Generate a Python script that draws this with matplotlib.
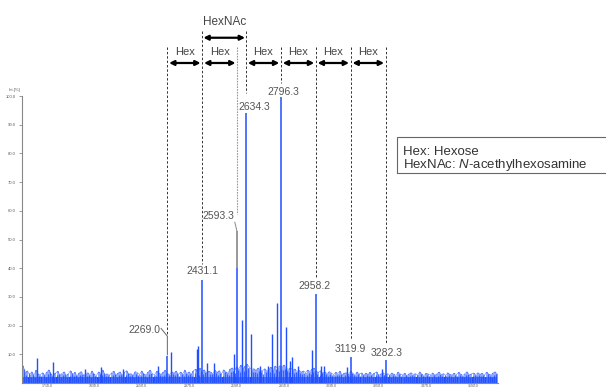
import numpy as np
import matplotlib
matplotlib.use('Agg')
import matplotlib.pyplot as plt
from matplotlib.patches import Rectangle

plt.rcParams['font.family'] = ['Liberation Sans', 'DejaVu Sans']
plt.rcParams['mathtext.fontset'] = 'custom'
plt.rcParams['mathtext.it'] = 'Liberation Sans:italic'
plt.rcParams['mathtext.rm'] = 'Liberation Sans'

# labelled glycan peaks (m/z, relative intensity %)
label_mz = [2269.0, 2431.1, 2593.3, 2634.3, 2796.3, 2958.2, 3119.9, 3282.3]
label_int = [9.5, 36, 40, 94, 99.5, 31, 9, 8]

# other visible peaks
peak_mz = [1666, 1740, 1887, 1960, 2063, 2226, 2285, 2405, 2413, 2452, 2487,
           2576, 2616, 2655, 2699, 2736, 2755, 2778, 2818, 2838, 2849, 2875,
           2940, 2981, 2996, 3103, 3265]
peak_int = [8.6, 7.3, 5, 5.5, 5, 6, 10.7, 12, 13, 7, 7,
            10, 22, 17, 6, 6, 17, 28, 19.5, 7.5, 9, 6,
            11.4, 6, 6, 5.5, 5]

# baseline noise, every 10 Da from 1600 to 3800
noise_mz = np.arange(1600, 3801, 10)
noise_int = [
    6.0, 3.5, 4.2, 2.8, 3.9, 2.6, 4.4, 3.1, 2.9, 3.6,
    2.7, 3.8, 4.6, 3.0, 2.5, 3.4, 4.1, 2.8, 3.3, 3.9,
    2.6, 3.2, 4.3, 2.9, 3.7, 2.4, 3.5, 4.0, 2.7, 3.1,
    3.6, 2.8, 4.2, 3.0, 2.6, 3.9, 3.3, 4.4, 2.9, 3.2,
    2.7, 3.5, 4.1, 2.8, 3.4, 3.9, 2.6, 3.7, 4.3, 3.0,
    3.3, 2.7, 4.0, 3.6, 2.9, 4.2, 3.1, 2.8, 3.8, 4.5,
    3.2, 2.9, 4.1, 3.5, 3.0, 3.7, 4.4, 3.3, 2.9, 4.0,
    3.4, 4.2, 2.9, 3.8, 3.1, 4.5, 3.3, 3.9, 3.0, 4.3,
    4.8, 3.6, 5.2, 4.0, 4.6, 3.5, 4.1, 3.8, 3.2, 4.4,
    3.7, 4.3, 3.1, 4.6, 3.9, 3.4, 4.8, 5.3, 4.2, 5.6,
    4.9, 6.2, 5.1, 5.8, 6.5, 5.4, 4.7, 5.0, 4.4, 5.2,
    4.6, 4.1, 5.0, 4.3, 4.8, 5.5, 4.2, 5.9, 5.1, 6.0,
    5.6, 6.3, 5.2, 4.7, 5.4, 4.5, 4.9, 4.0, 4.4, 3.8,
    4.2, 3.6, 4.5, 3.9, 4.8, 5.2, 4.1, 3.7, 4.3, 3.5,
    3.9, 3.2, 4.0, 3.5, 2.9, 3.7, 3.3, 4.1, 2.8, 3.4,
    3.6, 3.0, 4.2, 3.3, 2.9, 3.8, 3.1, 3.5, 2.7, 3.4,
    3.0, 3.7, 2.8, 3.4, 3.9, 2.6, 3.2, 3.6, 2.9, 3.3,
    2.7, 3.5, 3.0, 2.6, 3.8, 3.1, 2.8, 3.4, 2.5, 3.2,
    3.6, 2.9, 3.3, 2.7, 3.9, 3.0, 2.6, 3.4, 3.1, 2.8,
    3.5, 2.7, 3.2, 3.8, 2.9, 3.3, 2.6, 3.6, 3.0, 2.8,
    3.4, 2.9, 3.7, 3.1, 2.6, 3.3, 3.9, 2.8, 3.2, 3.5,
    2.9, 3.6, 3.0, 3.4, 2.7, 3.8, 3.1, 2.8, 3.5, 3.9,
    3.0]

yticks = [10, 20, 30, 40, 50, 60, 70, 80, 90, 100]
xticks = [1710, 1930, 2150, 2370, 2590, 2810, 3030, 3250, 3470, 3690]

blue = '#1f4fff'
light_blue = '#5a82ff'
gray = '#555555'

fig = plt.figure(figsize=(6.06, 3.88), dpi=100)
ax = fig.add_axes([22.3 / 606, 5 / 388, (498 - 22.3) / 606, 287 / 388])

# spectrum
ax.fill_between(noise_mz, 0, 2.0, color=blue, lw=0)
ax.vlines(noise_mz, 0, noise_int, color=light_blue, lw=1.2, alpha=0.8)
ax.vlines(noise_mz + 5, 0, np.array(noise_int) * 0.8, color=blue, lw=0.9,
          alpha=0.8)
ax.plot(noise_mz, noise_int, color=blue, lw=0.5, alpha=0.6)
ax.vlines(peak_mz, 0, peak_int, color=blue, lw=1.0)
ax.vlines(label_mz, 0, label_int, color=blue, lw=1.1)

ax.set_xlim(1596, 3803)
ax.set_ylim(0, 100)
ax.set_yticks(yticks)
ax.set_yticklabels(['%.1f' % v for v in yticks], fontsize=3, color=gray)
ax.set_xticks(xticks)
ax.set_xticklabels(['%.1f' % v for v in xticks], fontsize=2.5, color=gray)
ax.tick_params(axis='y', length=2, width=0.6, color='#888888', pad=3)
ax.tick_params(axis='x', length=1, width=0.6, color='#888888', pad=0)
for s in ['top', 'right']:
    ax.spines[s].set_visible(False)
for s in ['left', 'bottom']:
    ax.spines[s].set_color('#888888')
    ax.spines[s].set_linewidth(0.8)
fig.text(9 / 606, (388 - 91) / 388, 'Int.[%]', fontsize=3, color=gray)

dash = dict(color='#333333', lw=0.7, ls=(0, (2.5, 2)), clip_on=False)

# vertical guide lines from the top annotations down to the peak labels
ax.plot([2431.1, 2431.1], [122.8, 41.5], **dash)
ax.plot([2634.3, 2634.3], [122.8, 101.0], **dash)
for mz, y1 in [(2269.0, 16.5), (2796.3, 104.5), (2958.2, 37.0),
               (3119.9, 14.9), (3282.3, 13.8)]:
    ax.plot([mz, mz], [117, y1], **dash)
ax.plot([2593.3, 2593.3], [117, 59], color='#999999', lw=0.8,
        ls=(0, (1.5, 1)), clip_on=False)

# leader lines for the offset labels
ax.plot([2240, 2269.0, 2269.0], [19.0, 16.3, 9.8], color='#666666', lw=0.7)
ax.plot([2582, 2593.3, 2593.3], [56.0, 52.5, 40.5], color='#888888', lw=0.7)
ax.plot([2593.3, 2593.3], [52.5, 40.5], color='#999999', lw=1.4)

# peak labels
lab = dict(fontsize=7.5, color=gray, va='center')
ax.text(2236, 18.3, '2269.0', ha='right', **lab)
ax.text(2431.1, 39.1, '2431.1', ha='center', **lab)
ax.text(2581, 58.2, '2593.3', ha='right', **lab)
ax.text(2671, 96.3, '2634.3', ha='center', **lab)
ax.text(2806, 101.4, '2796.3', ha='center', **lab)
ax.text(2952, 33.8, '2958.2', ha='center', **lab)
ax.text(3117, 11.8, '3119.9', ha='center', **lab)
ax.text(3286, 10.6, '3282.3', ha='center', **lab)

# HexNAc arrow
arr = dict(arrowstyle='<|-|>', color='black', lw=1.6, mutation_scale=7,
           shrinkA=0, shrinkB=0)
ax.annotate('', xy=(2431.1 + 5, 120.3), xytext=(2634.3 - 5, 120.3),
            arrowprops=arr, annotation_clip=False)
ax.text(2532.7, 125.8, 'HexNAc', ha='center', va='center', fontsize=8.5,
        color='#444444', clip_on=False)

# Hex arrows
hex_pairs = [(2269.0, 2431.1), (2431.1, 2593.3), (2634.3, 2796.3),
             (2796.3, 2958.2), (2958.2, 3119.9), (3119.9, 3282.3)]
for a, b in hex_pairs:
    ax.annotate('', xy=(a + 8, 111.5), xytext=(b - 8, 111.5),
                arrowprops=arr, annotation_clip=False)
    ax.text((a + b) / 2, 115.4, 'Hex', ha='center', va='center', fontsize=8,
            color='#444444', clip_on=False)

# legend box
fig.patches.append(Rectangle((396.7 / 606, (388 - 173.3) / 388),
                             (640 - 396.7) / 606, 36.6 / 388,
                             transform=fig.transFigure, fill=False,
                             ec='#666666', lw=0.8))
fig.text(403 / 606, (388 - 152) / 388, 'Hex: Hexose', fontsize=9.5,
         color='#333333', va='center')
fig.text(403 / 606, (388 - 164.5) / 388,
         r'HexNAc: $\mathit{N}$-acethylhexosamine', fontsize=9.5,
         color='#333333', va='center')

fig.savefig('out.png', dpi=100)
